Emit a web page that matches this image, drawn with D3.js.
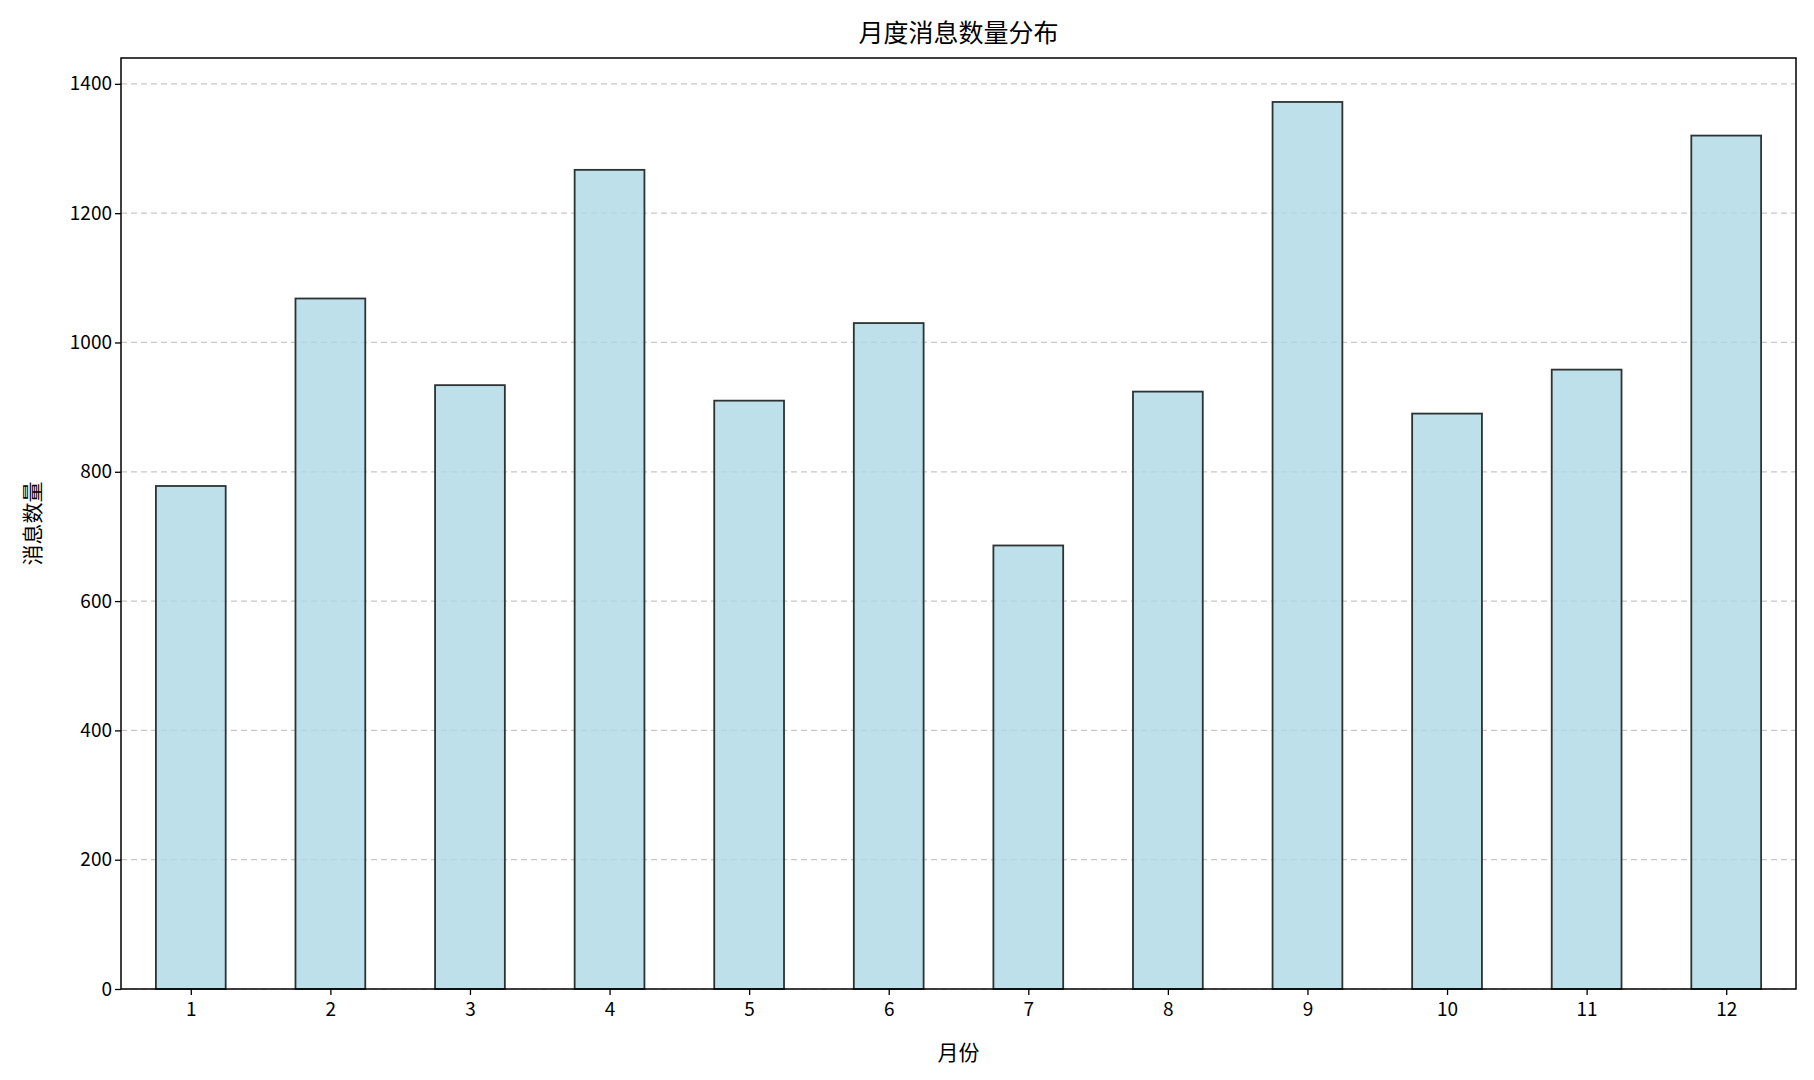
<!DOCTYPE html>
<html><head><meta charset="utf-8">
<script src="https://cdn.jsdelivr.net/npm/d3@7"></script>
<style>body{margin:0;background:#fff}text{font-family:"Noto Sans CJK SC","DejaVu Sans",sans-serif}</style>
</head><body><svg id="c" width="1814" height="1080"></svg>
<script>
var months = [1,2,3,4,5,6,7,8,9,10,11,12];
var counts = [778,1068,934,1267,910,1030,686,924,1372,890,958,1320];
var yTicks = [0,200,400,600,800,1000,1200,1400];

var m = {left:121, right:18, top:58, bottom:91};
var W = 1814, H = 1080;
var svg = d3.select("#c");
var x = d3.scaleLinear().domain([-0.5, 11.5]).range([m.left, W - m.right]);
var y = d3.scaleLinear().domain([0, 1440]).range([H - m.bottom, m.top]);
var bw = x(0.25) - x(0);

// grid
svg.append("g").selectAll("line").data(yTicks).join("line")
  .attr("x1", m.left).attr("x2", W - m.right)
  .attr("y1", d => y(d)).attr("y2", d => y(d))
  .attr("stroke", "#c8c8c8").attr("stroke-dasharray", "6,4").attr("stroke-width", 1.2);

// bars
svg.append("g").selectAll("rect").data(counts).join("rect")
  .attr("x", (d, i) => x(i) - bw).attr("width", 2 * bw)
  .attr("y", d => y(d)).attr("height", d => y(0) - y(d))
  .attr("fill", "rgba(173,216,230,0.8)").attr("stroke", "#2b3333").attr("stroke-width", 1.8);

// axes
var xa = svg.append("g").attr("transform", `translate(0,${H - m.bottom})`)
  .call(d3.axisBottom(x).tickValues(d3.range(12)).tickFormat(i => months[i]).tickSize(6));
var ya = svg.append("g").attr("transform", `translate(${m.left},0)`)
  .call(d3.axisLeft(y).tickValues(yTicks).tickFormat(d3.format("d")).tickSize(6));
[xa, ya].forEach(a => {
  a.selectAll("text").style("font-size", "19px").attr("fill", "#000");
  a.selectAll("line").attr("stroke", "#000").attr("stroke-width", 1.3);
  a.select(".domain").remove();
});
xa.selectAll("text").attr("dy", "0.95em");

svg.append("rect").attr("x", m.left).attr("y", m.top)
  .attr("width", W - m.left - m.right).attr("height", H - m.top - m.bottom)
  .attr("fill", "none").attr("stroke", "#000").attr("stroke-width", 1.5);

svg.append("text").attr("x", (m.left + W - m.right) / 2).attr("y", 42)
  .attr("text-anchor", "middle").style("font-size", "25px").text("月度消息数量分布");
svg.append("text").attr("x", (m.left + W - m.right) / 2).attr("y", 1060)
  .attr("text-anchor", "middle").style("font-size", "21px").text("月份");
svg.append("text").attr("transform", `translate(40,${(m.top + H - m.bottom) / 2}) rotate(-90)`)
  .attr("text-anchor", "middle").style("font-size", "21px").text("消息数量");
</script></body></html>
